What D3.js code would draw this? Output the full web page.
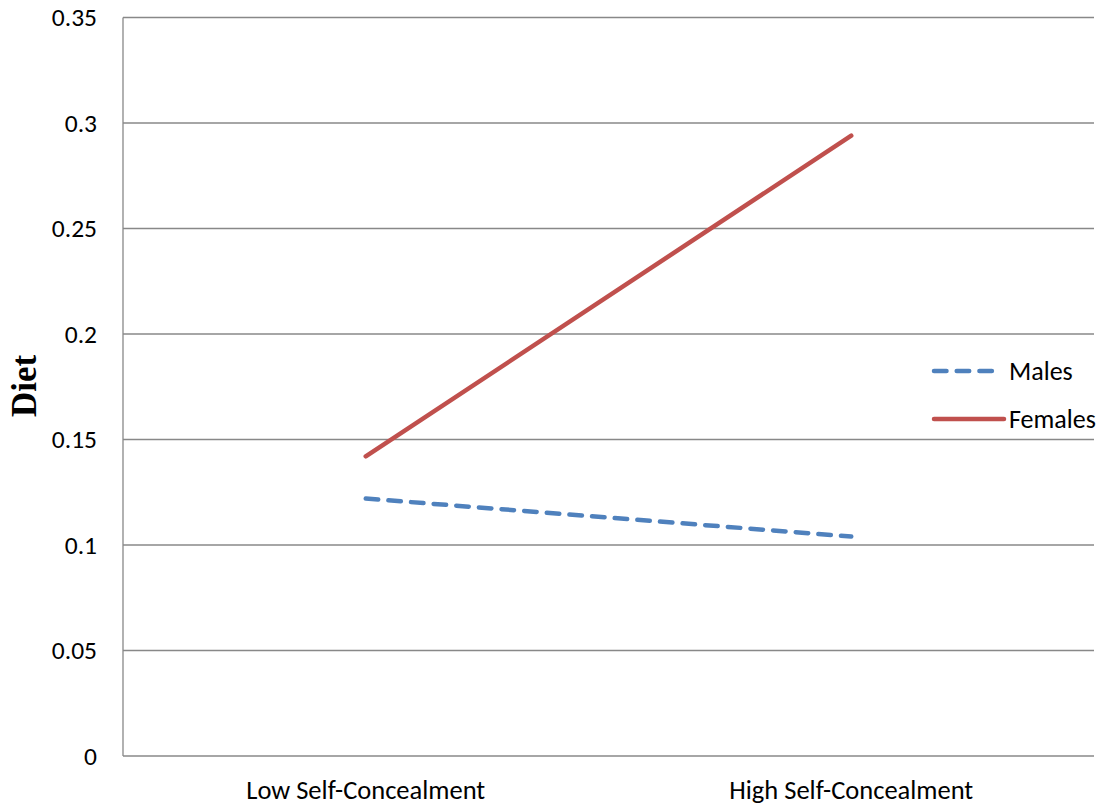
<!DOCTYPE html>
<html><head><meta charset="utf-8">
<script src="https://cdn.jsdelivr.net/npm/d3@7"></script>
<style>body{margin:0;background:#fff}svg{display:block}</style>
</head><body>
<script>
const categories = ["Low Self-Concealment", "High Self-Concealment"];
const males = [0.122, 0.104];
const females = [0.142, 0.294];
const yTicks = [0, 0.05, 0.1, 0.15, 0.2, 0.25, 0.3, 0.35];
const tickLabels = ["0", "0.05", "0.1", "0.15", "0.2", "0.25", "0.3", "0.35"];
const seriesNames = ["Males", "Females"];

const W = 1104, H = 807;
const m = {left: 123, right: 1094, top: 17.5, bottom: 756};
const font = "Calibri, Carlito, Lato, sans-serif";
const fs = 25.5;
const svg = d3.select("body").append("svg").attr("width", W).attr("height", H);

const x = d3.scaleBand().domain(categories).range([m.left, m.right]);
const y = d3.scaleLinear().domain([0, 0.35]).range([m.bottom, m.top]);

// gridlines
svg.append("g").selectAll("line").data(yTicks).join("line")
  .attr("x1", m.left).attr("x2", m.right)
  .attr("y1", d => y(d)).attr("y2", d => y(d))
  .attr("stroke", "#888").attr("stroke-width", 1.3);

// y axis line
svg.append("line").attr("x1", m.left).attr("x2", m.left)
  .attr("y1", y(0.35)).attr("y2", y(0)).attr("stroke", "#888").attr("stroke-width", 1.3);

// y tick labels
svg.append("g").selectAll("text").data(yTicks).join("text")
  .attr("x", 97).attr("y", d => y(d)).attr("dy", "0.35em")
  .attr("text-anchor", "end").attr("font-family", font).attr("font-size", fs)
  .attr("fill", "#000").text((d, i) => tickLabels[i]);

// x labels
svg.append("g").selectAll("text").data(categories).join("text")
  .attr("x", d => x(d) + x.bandwidth() / 2).attr("y", 799)
  .attr("text-anchor", "middle").attr("font-family", font).attr("font-size", 26.5)
  .attr("fill", "#000").text(d => d);

// y title
svg.append("text").attr("transform", "translate(36,386) rotate(-90)")
  .attr("text-anchor", "middle").attr("font-family", "'Times New Roman', 'Liberation Serif', serif")
  .attr("font-weight", "bold").attr("font-size", 35).text("Diet");

const line = d3.line().x((d, i) => x(categories[i]) + x.bandwidth() / 2).y(d => y(d));

svg.append("path").datum(females).attr("d", line).attr("fill", "none")
  .attr("stroke", "#C0504D").attr("stroke-width", 4.5).attr("stroke-linecap", "round");
svg.append("path").datum(males).attr("d", line).attr("fill", "none")
  .attr("stroke", "#4F81BD").attr("stroke-width", 4.5).attr("stroke-linecap", "round")
  .attr("stroke-dasharray", "12.5,10.2");

// legend
const leg = [
  {name: seriesNames[0], color: "#4F81BD", dash: "12.5,10.2", y: 371, x2: 994},
  {name: seriesNames[1], color: "#C0504D", dash: null, y: 419, x2: 1004}
];
leg.forEach(l => {
  svg.append("line").attr("x1", 934).attr("x2", l.x2).attr("y1", l.y).attr("y2", l.y)
    .attr("stroke", l.color).attr("stroke-width", 4.5).attr("stroke-linecap", "round")
    .attr("stroke-dasharray", l.dash);
  svg.append("text").attr("x", 1009).attr("y", l.y).attr("dy", "0.35em")
    .attr("font-family", font).attr("font-size", 26).text(l.name);
});
</script>
</body></html>
